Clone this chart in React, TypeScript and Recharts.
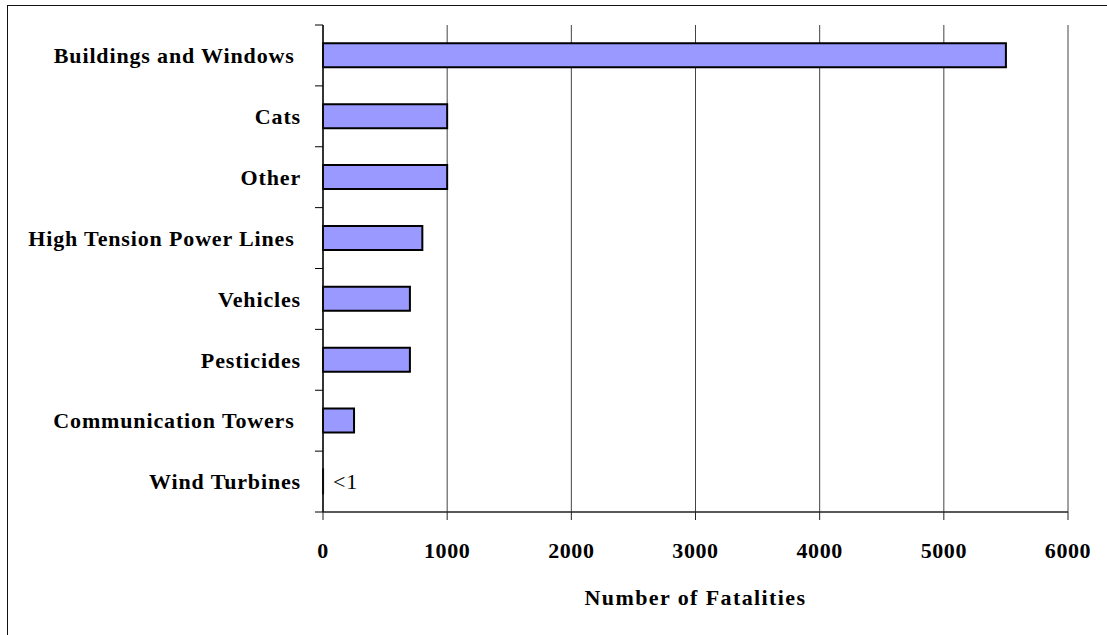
import React from 'react';
import {
  BarChart,
  Bar,
  XAxis,
  YAxis,
  CartesianGrid,
  LabelList,
  Label,
} from 'recharts';

// a few of the source labels carry a trailing space
const categories = [
  'Buildings and Windows ',
  'Cats',
  'Other',
  'High Tension Power Lines ',
  'Vehicles',
  'Pesticides',
  'Communication Towers ',
  'Wind Turbines',
];
// wind turbines is shown as "<1"
const fatalities = [5500, 1000, 1000, 800, 700, 700, 250, 0.5];
const barNotes = ['', '', '', '', '', '', '', '<1'];
const xTicks = [0, 1000, 2000, 3000, 4000, 5000, 6000];

const data = categories.map((name, i) => ({
  name,
  value: fatalities[i],
  note: barNotes[i],
}));

const FONT = 'Liberation Serif';
const SIZE = 22;
const SPACING = 0.85;

// category label plus the little tick marks sitting on the band edges
const CategoryTick = (props: any) => {
  const { x, y, payload, index } = props;
  const half = payload.offset || 0;
  return (
    <g>
      <line x1={x - 8} x2={x} y1={y - half} y2={y - half} stroke="#000" strokeWidth={1} />
      {index === categories.length - 1 && (
        <line x1={x - 8} x2={x} y1={y + half} y2={y + half} stroke="#000" strokeWidth={1} />
      )}
      <text
        x={x - 22}
        y={y}
        dy="0.35em"
        textAnchor="end"
        fill="#000"
        fontFamily={FONT}
        fontWeight="bold"
        fontSize={SIZE}
        letterSpacing={SPACING}
        style={{ whiteSpace: 'pre' }}
      >
        {payload.value}
      </text>
    </g>
  );
};

const NoteLabel = (props: any) => {
  const { x, y, width, height, value } = props;
  if (!value) return null;
  return (
    <text
      x={x + width + 10}
      y={y + height / 2}
      dy="0.35em"
      fill="#000"
      fontFamily={FONT}
      fontSize={SIZE}
      letterSpacing={0.8}
    >
      {value}
    </text>
  );
};

export default function App() {
  return (
    <div
      style={{
        position: 'absolute',
        left: 0,
        top: 0,
        width: 1107,
        height: 635,
        background: '#fff',
        fontFamily: FONT,
      }}
    >
      <div
        style={{
          position: 'absolute',
          left: 7,
          top: 5,
          right: -4,
          bottom: -4,
          borderLeft: '1.5px solid #111',
          borderTop: '1.5px solid #111',
        }}
      />
      <BarChart
        width={1107}
        height={635}
        data={data}
        layout="vertical"
        margin={{ top: 25, right: 39, bottom: 0, left: 0 }}
        barCategoryGap="30%"
        style={{ position: 'absolute', left: 0, top: 0 }}
      >
        <CartesianGrid horizontal={false} stroke="#444" strokeWidth={1} />
        <XAxis
          type="number"
          domain={[0, 6000]}
          ticks={xTicks}
          interval={0}
          height={123}
          axisLine={{ stroke: '#222', strokeWidth: 1.5 }}
          tickLine={{ stroke: '#222', strokeWidth: 1 }}
          tickSize={8}
          tickMargin={22}
          tick={{
            fill: '#000',
            fontFamily: FONT,
            fontWeight: 'bold',
            fontSize: SIZE,
            letterSpacing: 0.6,
          }}
        >
          <Label
            value="Number of Fatalities"
            position="insideBottom"
            offset={30}
            fill="#000"
            fontFamily={FONT}
            fontWeight="bold"
            fontSize={SIZE}
            letterSpacing={1.4}
          />
        </XAxis>
        <XAxis
          xAxisId="top"
          type="number"
          orientation="top"
          domain={[0, 6000]}
          height={0}
          tick={false}
          tickLine={false}
          axisLine={{ stroke: '#999', strokeWidth: 2 }}
        />
        <YAxis
          type="category"
          dataKey="name"
          width={323}
          interval={0}
          tickSize={0}
          tickMargin={0}
          tickLine={false}
          axisLine={{ stroke: '#111', strokeWidth: 1.5 }}
          tick={<CategoryTick />}
        />
        <YAxis
          yAxisId="right"
          type="category"
          dataKey="name"
          orientation="right"
          width={0}
          tick={false}
          tickLine={false}
          axisLine={{ stroke: '#999', strokeWidth: 2.5 }}
        />
        <Bar
          dataKey="value"
          fill="#9999FF"
          stroke="#000"
          strokeWidth={2}
          isAnimationActive={false}
        >
          <LabelList dataKey="note" content={<NoteLabel />} />
        </Bar>
      </BarChart>
    </div>
  );
}
